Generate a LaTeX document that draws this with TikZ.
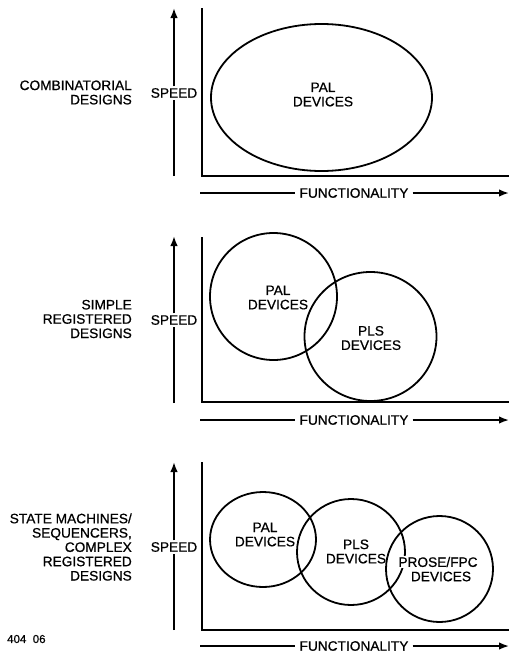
\documentclass[tikz,border=0pt]{standalone}
\usepackage{fontspec}
\setmainfont{Liberation Sans}[UprightFeatures={FakeBold=0.7}]
\usetikzlibrary{arrows.meta}
\begin{document}
\begin{tikzpicture}[x=1pt,y=-1pt,
  lbl/.style={font=\fontsize{13.7}{14.3}\selectfont, inner sep=0pt, align=center},
  side/.style={lbl, align=right, anchor=east},
  wht/.style={lbl, fill=white, inner sep=1.5pt},
  funlbl/.style={lbl, fill=white, inner xsep=4pt, inner ysep=1pt},
  axis/.style={line width=2pt},
  plain/.style={line width=1.6pt},
  arr/.style={line width=1.6pt, -{Latex[length=10pt,width=7.5pt]}},
  blob/.style={line width=1.8pt},
  ]
\useasboundingbox (0,0) rectangle (509,653);

% ---------------- Panel 1 ----------------
\draw[axis] (202,8) -- (202,176) -- (509,176);
\draw[blob] (321.5,97.5) ellipse [x radius=110.5, y radius=73.5];
\node[lbl] (pal1) at (323,94.5) {PAL\\DEVICES};
\node[side] (lab1) at (132,92.5) {COMBINATORIAL\\DESIGNS};
\coordinate (s1b) at (174,176);
\coordinate (s1t) at (174,8);
\node[wht] (sp1) at (174,93) {SPEED};
\draw[plain] (s1b) -- (sp1);
\draw[arr] (sp1) -- (s1t);
\coordinate (f1a) at (200,193);
\coordinate (f1b) at (509,193);
\node[funlbl] (fn1) at (354,193) {FUNCTIONALITY};
\draw[plain] (f1a) -- (fn1);
\draw[arr] (fn1) -- (f1b);

% ---------------- Panel 2 ----------------
\draw[axis] (202,237) -- (202,402) -- (509,402);
\draw[blob] (273.5,296.5) ellipse [x radius=63.5, y radius=63.5];
\draw[blob] (370.5,336.5) ellipse [x radius=66, y radius=64.5];
\node[lbl] (pal2) at (278,297.5) {PAL\\DEVICES};
\node[lbl] (pls2) at (371,338) {PLS\\DEVICES};
\node[side] (lab2) at (132,319) {SIMPLE\\REGISTERED\\DESIGNS};
\coordinate (s2b) at (174,403);
\coordinate (s2t) at (174,236);
\node[wht] (sp2) at (174,320) {SPEED};
\draw[plain] (s2b) -- (sp2);
\draw[arr] (sp2) -- (s2t);
\coordinate (f2a) at (200,420);
\coordinate (f2b) at (509,420);
\node[funlbl] (fn2) at (354,420) {FUNCTIONALITY};
\draw[plain] (f2a) -- (fn2);
\draw[arr] (fn2) -- (f2b);

% ---------------- Panel 3 ----------------
\draw[axis] (202,462) -- (202,630) -- (509,630);
\draw[blob] (263,539.5) ellipse [x radius=53, y radius=47.5];
\draw[blob] (351,552) ellipse [x radius=54, y radius=53];
\draw[blob] (439.5,569) ellipse [x radius=53.5, y radius=53];
\node[lbl] (pal3) at (265,534.5) {PAL\\DEVICES};
\node[lbl] (pls3) at (356,551.5) {PLS\\DEVICES};
\node[lbl, fill=white, inner sep=1pt] (pro3) at (438,562) {PROSE/FPC};
\node[lbl] (dev3) at (441,576.5) {DEVICES};
\node[side] (lab3) at (132,547) {STATE MACHINES/\\SEQUENCERS,\\COMPLEX\\REGISTERED\\DESIGNS};
\coordinate (s3b) at (174,630);
\coordinate (s3t) at (174,462);
\node[wht] (sp3) at (174,547) {SPEED};
\draw[plain] (s3b) -- (sp3);
\draw[arr] (sp3) -- (s3t);
\coordinate (f3a) at (200,646);
\coordinate (f3b) at (509,646);
\node[funlbl] (fn3) at (354,646) {FUNCTIONALITY};
\draw[plain] (f3a) -- (fn3);
\draw[arr] (fn3) -- (f3b);

\node[lbl, anchor=west, font=\fontsize{11.5}{12}\selectfont] (fig) at (7,639) {404\ \ 06};
\end{tikzpicture}
\end{document}
